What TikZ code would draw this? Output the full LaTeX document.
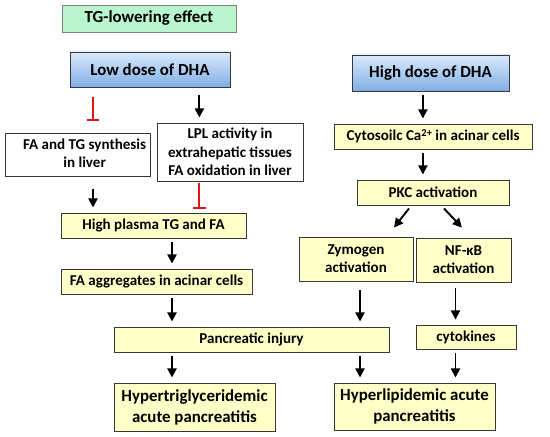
\documentclass[tikz,border=0pt]{standalone}
\usepackage{fontspec}
\setmainfont{Carlito}
\usepackage{xcolor}
\usepackage{tikz}
\usetikzlibrary{arrows.meta,positioning,calc}
\newcommand{\normtxt}{\fontsize{10.7}{13}\selectfont\bfseries}
\newcommand{\bigtxt}{\fontsize{12}{15}\selectfont\bfseries}
\newcommand{\supr}[1]{\raisebox{0.55ex}{\fontsize{7.5}{8}\selectfont #1}}
\definecolor{clrEdge}{RGB}{55,55,55}
\definecolor{clrY}{RGB}{255,255,200}
\definecolor{clrGr}{RGB}{185,245,205}
\definecolor{clrBt}{RGB}{218,234,251}
\definecolor{clrBb}{RGB}{128,174,230}
\definecolor{clrInh}{RGB}{222,22,22}
\tikzset{
  box/.style={rectangle,draw=clrEdge,line width=0.7pt,align=center,
    inner sep=2pt,font=\normtxt},
  plainbox/.style={box,fill=white},
  yellowbox/.style={box,fill=clrY},
  dosebox/.style={box,top color=clrBt,bottom color=clrBb,font=\bigtxt},
  titlebox/.style={box,draw=gray,fill=clrGr,font=\bigtxt},
  resultbox/.style={box,fill=clrY,font=\bigtxt},
  arrow/.style={-{Triangle[length=6.5pt,width=6.5pt]},line width=1.35pt,
    color=black,shorten <=0.1cm,shorten >=0.125cm},
  inhibit/.style={-{Bar[width=9pt,line width=1.4pt]},line width=1.4pt,
    color=clrInh,shorten <=0.1cm,shorten >=0.1cm}
}
\begin{document}
\begin{tikzpicture}[x=1cm,y=1cm]
  \fill[white,use as bounding box] (0,0) rectangle (13.75,-10.925);

  \node[titlebox,minimum width=4.35cm,minimum height=0.675cm] (tgeffect)
    at (3.725,-0.4625) {TG-lowering effect};
  \node[dosebox,minimum width=4.0cm,minimum height=0.875cm] (lowdose)
    at (3.75,-1.7375) {Low dose of DHA};
  \node[dosebox,minimum width=3.925cm,minimum height=0.9cm] (highdose)
    at (10.7625,-1.825) {High dose of DHA};

  \node[plainbox,minimum width=3.625cm,minimum height=1.0cm] (synth)
    at (1.94,-3.875)
    {\begin{tabular}{@{\hspace{0.35cm}}c@{}}FA and TG synthesis\\in liver\end{tabular}};
  \node[plainbox,minimum width=3.65cm,minimum height=1.45cm] (lpl)
    at (5.75,-3.8) {LPL activity in\\extrahepatic tissues\\FA oxidation in liver};
  \node[yellowbox,minimum width=4.95cm,minimum height=0.625cm] (cytoca)
    at (10.825,-3.4125) {Cytosoilc Ca\supr{2+} in acinar cells};
  \node[yellowbox,minimum width=3.8cm,minimum height=0.625cm] (pkc)
    at (10.825,-4.8125) {PKC activation};

  \node[yellowbox,minimum width=4.625cm,minimum height=0.625cm] (plasma)
    at (3.8375,-5.6375) {High plasma TG and FA};
  \node[yellowbox,minimum width=2.85cm,minimum height=1.1cm] (zymogen)
    at (8.9,-6.475) {Zymogen\\activation};
  \node[yellowbox,minimum width=2.375cm,minimum height=1.1cm] (nfkb)
    at (11.5875,-6.5) {NF-κB\\activation};
  \node[yellowbox,minimum width=4.775cm,minimum height=0.625cm] (aggregates)
    at (3.9125,-7.0375) {FA aggregates in acinar cells};
  \node[yellowbox,minimum width=6.875cm,minimum height=0.625cm] (injury)
    at (6.2875,-8.4875) {Pancreatic injury};
  \node[yellowbox,minimum width=2.5cm,minimum height=0.6cm] (cytokines)
    at (11.65,-8.425) {cytokines};

  \node[resultbox,minimum width=4.025cm,minimum height=1.2cm] (hypertg)
    at (4.8625,-10.175) {Hypertriglyceridemic\\acute pancreatitis};
  \node[resultbox,minimum width=4.025cm,minimum height=1.175cm] (hyperlip)
    at (10.3625,-10.1625) {Hyperlipidemic acute\\pancreatitis};

  \coordinate (lowleft) at ($(lowdose.south)+(-1.425,0)$);
  \coordinate (lowright) at ($(lowdose.south)+(1.235,0)$);
  \coordinate (highleft) at ($(highdose.south)+(-0.19,0)$);
  \coordinate (plasmadown) at ($(plasma.south)+(0.4625,0)$);
  \coordinate (zymdown) at ($(zymogen.south)+(0.1,0)$);
  \coordinate (nfkbdown) at ($(nfkb.south)+(-0.2,0)$);

  % low dose branch
  \draw[inhibit,shorten <=0.25cm,shorten >=0.3cm]
    (lowleft) -- (lowleft |- synth.north);
  \draw[arrow,shorten <=0.2cm] (lowright) -- (lowright |- lpl.north);
  \draw[arrow,shorten <=0.3cm]
    (lowleft |- synth.south) -- (lowleft |- plasma.north);
  \draw[inhibit,shorten <=0.05cm]
    (lowright |- lpl.south) -- (lowright |- plasma.north);
  \draw[arrow] (plasmadown) -- (plasmadown |- aggregates.north);
  \draw[arrow] (plasmadown |- aggregates.south) -- (plasmadown |- injury.north);
  \draw[arrow] (plasmadown |- injury.south) -- (plasmadown |- hypertg.north);

  % high dose branch
  \draw[arrow] (highleft) -- (highleft |- cytoca.north);
  \draw[arrow] (highleft |- cytoca.south) -- (highleft |- pkc.north);
  \draw[arrow,shorten <=0pt,shorten >=0pt]
    ($(pkc.south)+(-0.6,-0.075)$) -- ($(zymogen.north)+(0.95,0.225)$);
  \draw[arrow,shorten <=0pt,shorten >=0pt]
    ($(pkc.south)+(0.275,-0.075)$) -- ($(nfkb.north)+(-0.04,0.25)$);
  \draw[arrow,shorten <=0.225cm] (zymdown) -- (zymdown |- injury.north);
  \draw[arrow] (zymdown |- injury.south) -- (zymdown |- hyperlip.north);
  \draw[arrow,shorten <=0.15cm] (nfkbdown) -- (nfkbdown |- cytokines.north);
  \draw[arrow] (nfkbdown |- cytokines.south) -- (nfkbdown |- hyperlip.north);
\end{tikzpicture}
\end{document}
